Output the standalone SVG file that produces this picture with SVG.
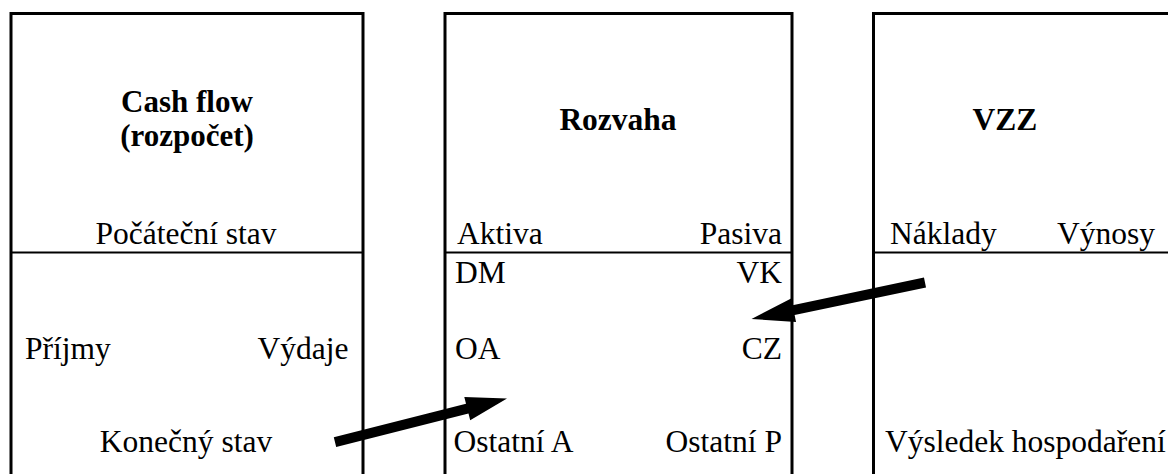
<svg xmlns="http://www.w3.org/2000/svg" width="1168" height="474" viewBox="0 0 1168 474">
<style>
.frame{fill:none;stroke:#000;stroke-width:3}
.sep{stroke:#000;stroke-width:2}
text{font-family:"Liberation Serif","Times New Roman",serif;font-size:31.5px;fill:#000}
.t{font-weight:bold}
.s{font-size:31px}
.m{text-anchor:middle}
.e{text-anchor:end}
.arrow{fill:#000;stroke:none}
</style>
<rect width="1168" height="474" fill="#fff"/>
<g id="cashflow">
<path class="frame" d="M11,476 V13.5 H363 V476"/>
<line class="sep" x1="11" y1="252.5" x2="363" y2="252.5"/>
<text class="t s m" x="187" y="111.5">Cash flow</text>
<text class="t s m" x="187" y="146">(rozpočet)</text>
<text class="m" x="186" y="244">Počáteční stav</text>
<text x="25" y="359">Příjmy</text>
<text class="e" x="348.5" y="359">Výdaje</text>
<text class="m" x="186" y="452">Konečný stav</text>
</g>
<g id="rozvaha">
<path class="frame" d="M445,476 V13.5 H792 V476"/>
<line class="sep" x1="445" y1="252.5" x2="792" y2="252.5"/>
<text class="t m" x="618" y="130">Rozvaha</text>
<text x="457" y="244">Aktiva</text>
<text class="e" x="782" y="244">Pasiva</text>
<text x="455" y="283">DM</text>
<text class="e" x="782" y="283">VK</text>
<text x="455" y="359">OA</text>
<text class="e" x="782" y="359">CZ</text>
<text x="453.5" y="452">Ostatní A</text>
<text class="e" x="782" y="452">Ostatní P</text>
</g>
<g id="vzz">
<path class="frame" d="M873.5,476 V13.5 H1172"/>
<line class="sep" x1="873.5" y1="252.5" x2="1170" y2="252.5"/>
<text class="t m" x="1005" y="130">VZZ</text>
<text x="890" y="244">Náklady</text>
<text class="e" x="1155" y="244">Výnosy</text>
<text x="885" y="452">Výsledek hospodaření</text>
</g>
<g id="connectors">
<polygon class="arrow" points="333.8,437.2 466.0,403.7 464.3,396.9 507,398.5 470.2,420.2 468.5,413.4 336.2,446.9"/>
<polygon class="arrow" points="923.97,277.61 792.55,305.26 791.11,298.41 751.5,319 796.05,321.89 794.61,315.04 926.03,287.39"/>
</g>
</svg>
